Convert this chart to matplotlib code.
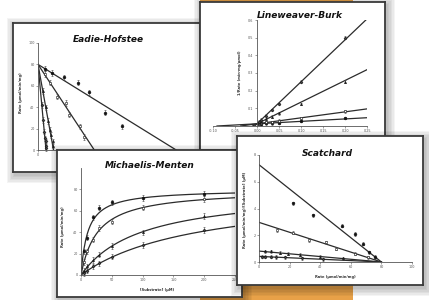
import numpy as np
import matplotlib.pyplot as plt
from matplotlib.patches import Rectangle

W, H = 429, 300

# one kinetic data set, the four panels are just transforms of it
substrate = [5, 10, 20, 30, 50, 100, 200]  # uM
rates = [
    [22, 35, 54, 63, 68, 72, 76],
    [12, 22, 33, 44, 50, 63, 71],
    [4, 8, 14, 19, 27, 40, 55],
    [2, 4, 8, 11, 17, 28, 42],
]
vmax = 80
km = [11, 27, 98, 190]
markers = ["o", "s", "^", "D"]
marker_faces = ["#111111", "white", "#222222", "#444444"]

# panel frames and plot areas in pixels (x0, y0, x1, y1), top-left origin
eh_box, eh_area = (13, 23, 200, 172), (38, 43, 190, 150)
lb_box, lb_area = (200, 2, 385, 150), (213, 20, 367, 126)
mm_box, mm_area = (57, 150, 242, 297), (81, 168, 235, 275)
sc_box, sc_area = (237, 136, 423, 285), (259, 155, 412, 262)

TITLE_FONT = ["Liberation Sans Narrow", "DejaVu Sans"]
LINE_COLOR = "#2b2b2b"

fig = plt.figure(figsize=(W / 100, H / 100), dpi=100)
fig.patch.set_facecolor("white")

# orange card behind the panels
fig.patches.append(Rectangle((200 / W, 0), 153 / W, 1, transform=fig.transFigure,
                             color="#e8a148", lw=0, zorder=0.05))


def frac(x0, y0, x1, y1):
    return [x0 / W, 1 - y1 / H, (x1 - x0) / W, (y1 - y0) / H]


def pt(x, y):
    return x / W, 1 - y / H


def panel(box, area, z, title, title_xy):
    x0, y0, x1, y1 = box
    # soft drop shadow, several transparent layers
    for i in range(6):
        g = 1 + i * 1.4
        fig.patches.append(Rectangle(((x0 - g + 2) / W, 1 - (y1 + g + 3) / H),
                                     (x1 - x0 + 2 * g) / W, (y1 - y0 + 2 * g) / H,
                                     transform=fig.transFigure, color="black",
                                     alpha=0.045, lw=0, zorder=z - 0.5))
    frame = fig.add_axes(frac(*box), zorder=z)
    frame.set_facecolor("white")
    frame.set_xticks([])
    frame.set_yticks([])
    for s in frame.spines.values():
        s.set_color("#3a3a3a")
        s.set_linewidth(1.3)
    frame.text(*pt(*title_xy), title, transform=fig.transFigure, ha="center", va="center",
               family=TITLE_FONT, weight="bold", style="italic", size=6.5, color="#111111")

    ax = fig.add_axes(frac(*area), zorder=z + 0.1)
    ax.set_facecolor("none")
    for side in ["top", "right"]:
        ax.spines[side].set_visible(False)
    for side in ["left", "bottom"]:
        ax.spines[side].set_color("#555555")
        ax.spines[side].set_linewidth(0.6)
    ax.tick_params(labelsize=2.4, length=1.5, width=0.4, pad=1, colors="#555555")
    return ax


def label(ax, xy, text, rot=0):
    ax.text(*pt(*xy), text, transform=fig.transFigure, ha="center", va="center",
            rotation=rot, size=2.6, weight="bold", color="#333333")


def points(ax, x, y, i, err):
    ax.errorbar(x, y, yerr=err, fmt=markers[i], ms=2.0 if i == 0 else 1.5,
                mfc=marker_faces[i], mec="#111111", mew=0.4, ecolor="#444444",
                elinewidth=0.4, capsize=0.7, capthick=0.4, clip_on=False)


s = np.array(substrate, dtype=float)

# Eadie-Hofstee: v against v/[S]
ax = panel(eh_box, eh_area, 1, "Eadie-Hofstee", (108, 40))
for i in range(4):
    v = np.array(rates[i], dtype=float)
    ax.plot([0, vmax / km[i]], [vmax, 0], color=LINE_COLOR, lw=0.9)
    points(ax, v / s, v, i, 2.5)
ax.set_xlim(0, 8)
ax.set_ylim(0, 100)
ax.set_xticks([0, 2, 4, 6, 8])
ax.set_yticks([0, 20, 40, 60, 80, 100])
label(ax, (21, 93), "Rate (µmol/min/mg)", 90)

# Lineweaver-Burk: 1/v against 1/[S]
ax = panel(lb_box, lb_area, 2, "Lineweaver-Burk", (300, 16))
for i in range(4):
    v = np.array(rates[i], dtype=float)
    ax.plot([-1 / km[i], 0.25], [0, km[i] / vmax * 0.25 + 1 / vmax], color=LINE_COLOR, lw=0.9)
    points(ax, 1 / s, 1 / v, i, 0.008)
ax.set_xlim(-0.10, 0.25)
ax.set_ylim(0, 0.6)
ax.spines["left"].set_position(("data", 0))
ax.set_xticks([-0.10, -0.05, 0.00, 0.05, 0.10, 0.15, 0.20, 0.25])
ax.set_xticklabels([f"{t:.2f}" for t in ax.get_xticks()])
ax.set_yticks([0.1, 0.2, 0.3, 0.4, 0.5, 0.6])
ax.set_yticklabels([f"{t:.1f}" for t in ax.get_yticks()])
label(ax, (240, 73), "1/Rate (min·mg/µmol)", 90)

# Michaelis-Menten: v against [S]
ax = panel(mm_box, mm_area, 3, "Michaelis-Menten", (150, 165))
grid = np.linspace(0, 250, 200)
for i in range(4):
    ax.plot(grid, vmax * grid / (km[i] + grid), color=LINE_COLOR, lw=0.9)
    points(ax, substrate, rates[i], i, 2.5)
ax.set_xlim(0, 250)
ax.set_ylim(0, 100)
ax.set_xticks([0, 50, 100, 150, 200, 250])
ax.set_yticks([0, 20, 40, 60, 80])
label(ax, (63, 227), "Rate (µmol/min/mg)", 90)
label(ax, (157, 290), "[Substrate] (µM)")

# Scatchard: v/[S] against v
ax = panel(sc_box, sc_area, 4, "Scatchard", (327, 153))
for i in range(4):
    v = np.array(rates[i], dtype=float)
    ax.plot([0, vmax], [vmax / km[i], 0], color=LINE_COLOR, lw=0.9)
    points(ax, v, v / s, i, 0.12)
ax.set_xlim(0, 100)
ax.set_ylim(0, 8)
ax.set_xticks([0, 20, 40, 60, 80, 100])
ax.set_yticks([0, 2, 4, 6, 8])
label(ax, (245, 210), "Rate (µmol/min/mg)/[Substrate] (µM)", 90)
label(ax, (335, 277), "Rate (µmol/min/mg)")

fig.savefig("out.png", dpi=100, facecolor="white")
